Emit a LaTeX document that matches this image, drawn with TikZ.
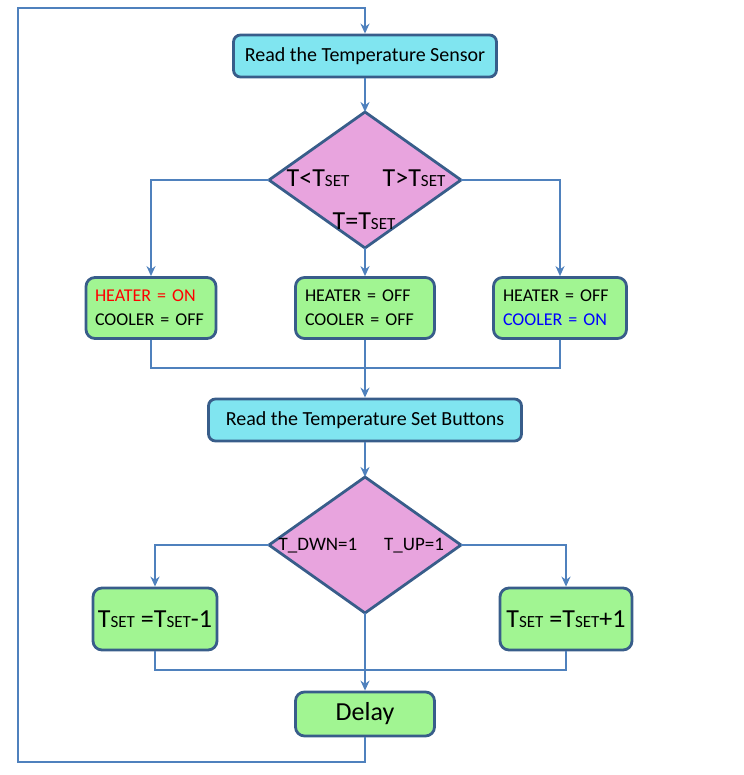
\documentclass[tikz,border=0pt]{standalone}
\usepackage{fontspec}
\setmainfont{Carlito}
\usepackage{xcolor}
\usetikzlibrary{positioning, arrows.meta, shapes.geometric, calc}

\definecolor{procfill}{RGB}{128,229,240}
\definecolor{actfill}{RGB}{161,245,146}
\definecolor{decfill}{RGB}{232,164,222}
\definecolor{boxline}{RGB}{56,93,138}
\definecolor{connline}{RGB}{79,129,189}

\newcommand{\tsetsym}[1][16]{T{\fontsize{#1}{#1}\selectfont SET}}

\begin{document}
\begin{tikzpicture}[x=1pt, y=-1pt]
			\tikzset{
				proc/.style={rectangle, rounded corners=7pt, draw=boxline, line width=2.8pt, fill=procfill, minimum height=42pt, inner sep=0pt, font=\fontsize{20}{24}\selectfont},
				act/.style={rectangle, rounded corners=9pt, draw=boxline, line width=2.8pt, fill=actfill, minimum height=61pt, inner sep=0pt, align=left, font=\fontsize{18}{24}\selectfont},
				decision/.style={diamond, draw=boxline, line width=2.8pt, fill=decfill, minimum width=192pt, minimum height=136pt, inner sep=0pt, outer sep=0pt},
				label/.style={font=\fontsize{26}{28}\selectfont, inner sep=0pt},
				conn/.style={draw=connline, line width=2.5pt},
				arrow/.style={conn, -{Stealth[length=10pt, width=9pt]}},
			}
			\useasboundingbox (0,0) rectangle (743,775);
			
			% Sensor part
			\node[proc, minimum width=263pt] (sensor) at (365,56) {\raisebox{-2pt}{Read the Temperature Sensor}};
			\node[decision] (cmp1) at (365,180) {};
			\node[label] (lblless) at (318,178) {T<\tsetsym[17]};
			\node[label] (lblmore) at (414,178) {T>\tsetsym[17]};
			\node[label] (lblequal) at (364,221) {T=\tsetsym[17]};
			
			\node[act, minimum width=130pt, text width=112pt] (heaton) at (151,308) {\textcolor{red}{HEATER = ON}\\COOLER = OFF};
			\node[act, minimum width=139pt, text width=120pt] (bothoff) at (365,308) {HEATER = OFF\\COOLER = OFF};
			\node[act, minimum width=133pt, text width=114pt] (coolon) at (560,308) {HEATER = OFF\\\textcolor{blue}{COOLER = ON}};
			
			% Buttons part
			\node[proc, minimum width=313pt] (buttons) at (365,420) {\raisebox{-2pt}{Read the Temperature Set Buttons}};
			\node[decision] (cmp2) at (365,545) {};
			\node[label, font=\fontsize{19}{22}\selectfont] (lbldown) at (318,546) {T\_DWN=1};
			\node[label, font=\fontsize{19}{22}\selectfont] (lblup) at (414,546) {T\_UP=1};
			
			\node[act, minimum width=124pt, minimum height=62pt, align=center, font=\fontsize{26}{28}\selectfont] (tdec) at (155,619) {\tsetsym[17]{} =\tsetsym[17]-1};
			\node[act, minimum width=132pt, minimum height=62pt, align=center, font=\fontsize{26}{28}\selectfont] (tinc) at (566,619) {\tsetsym[17]{} =\tsetsym[17]+1};
			
			\node[act, minimum width=139pt, minimum height=44pt, align=center, font=\fontsize{26}{28}\selectfont] (delay) at (365,714) {Delay};
			
			% Junction and loop points
			\coordinate (merge1) at (365,368);
			\coordinate (merge2) at (365,670);
			\coordinate (loopbl) at (18,762);
			\coordinate (looptl) at (18,8);
			
			% Connecting lines
			\draw[arrow] (sensor) -- (cmp1);
			\draw[arrow] (cmp1.west) -| (heaton.north);
			\draw[arrow] (cmp1.east) -| (coolon.north);
			\draw[arrow] (cmp1.south) -- (bothoff.north);
			\draw[conn] (heaton.south) |- (merge1);
			\draw[conn] (coolon.south) |- (merge1);
			\draw[conn] (bothoff.south) -- (merge1);
			\draw[arrow] (merge1) -- (buttons.north);
			\draw[arrow] (buttons) -- (cmp2);
			\draw[arrow] (cmp2.west) -| (tdec.north);
			\draw[arrow] (cmp2.east) -| (tinc.north);
			\draw[conn] (tdec.south) |- (merge2);
			\draw[conn] (tinc.south) |- (merge2);
			\draw[arrow] (cmp2.south) -- (delay.north);
			\draw[arrow] (delay.south) |- (loopbl) -- (looptl) -| (sensor.north);
		\end{tikzpicture}
\end{document}
